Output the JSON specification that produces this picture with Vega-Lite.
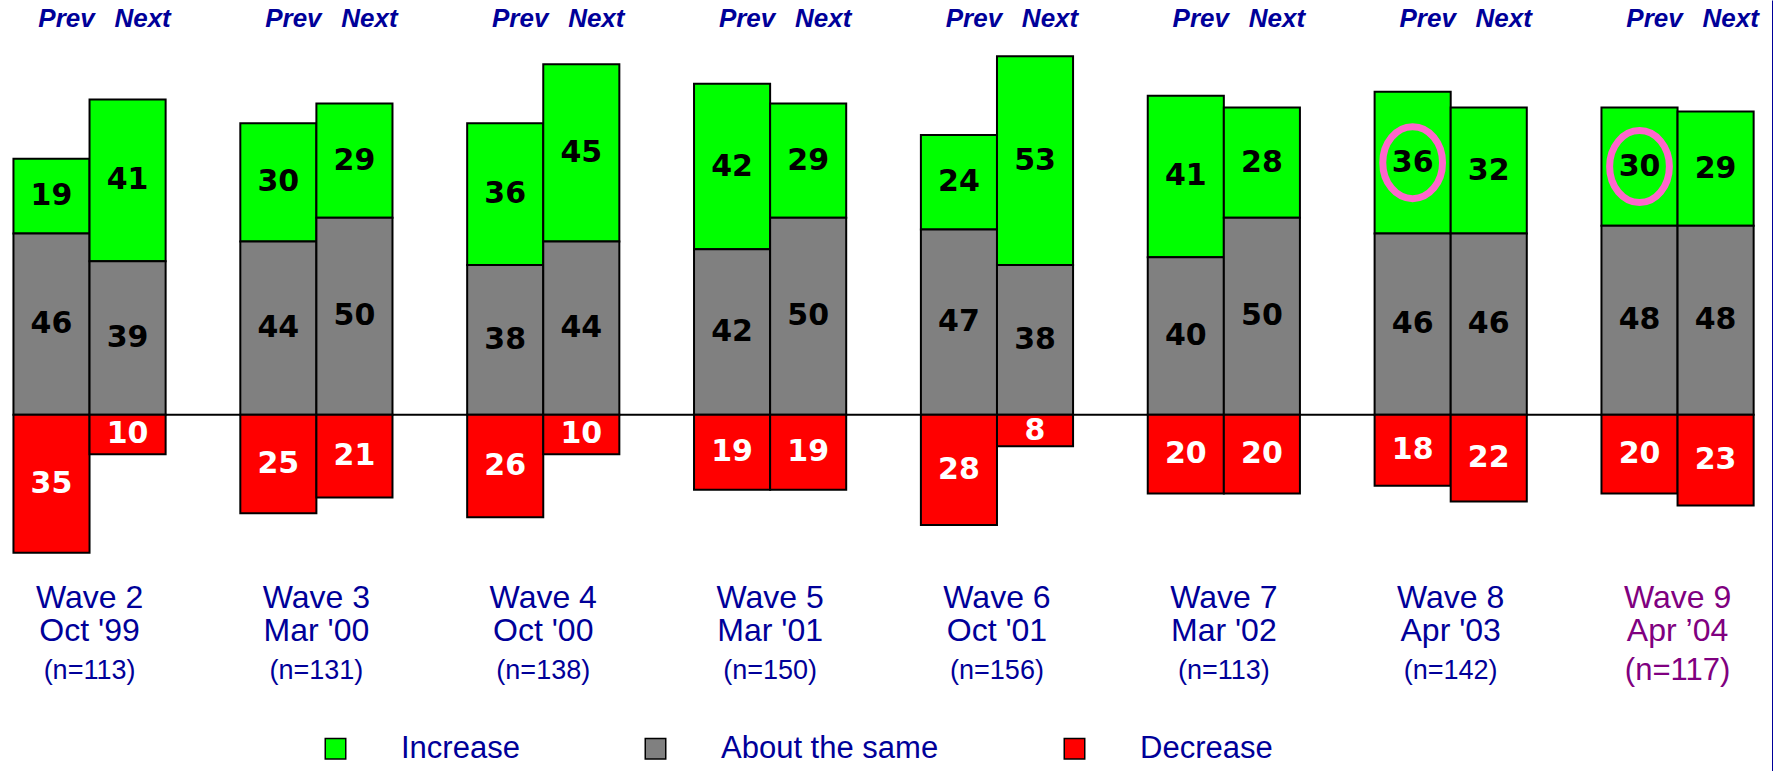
{
  "$schema": "https://vega.github.io/schema/vega-lite/v6.json",
  "width": 1773,
  "height": 771,
  "autosize": {"type": "none"},
  "padding": 0,
  "background": "white",
  "config": {"view": {"stroke": null}, "font": "Liberation Sans"},
  "datasets": {
    "bars": [
      {"wave": "Wave 2", "period": "Prev", "cat": "Increase", "value": 19},
      {"wave": "Wave 2", "period": "Prev", "cat": "About the same", "value": 46},
      {"wave": "Wave 2", "period": "Prev", "cat": "Decrease", "value": 35},
      {"wave": "Wave 2", "period": "Next", "cat": "Increase", "value": 41},
      {"wave": "Wave 2", "period": "Next", "cat": "About the same", "value": 39},
      {"wave": "Wave 2", "period": "Next", "cat": "Decrease", "value": 10},
      {"wave": "Wave 3", "period": "Prev", "cat": "Increase", "value": 30},
      {"wave": "Wave 3", "period": "Prev", "cat": "About the same", "value": 44},
      {"wave": "Wave 3", "period": "Prev", "cat": "Decrease", "value": 25},
      {"wave": "Wave 3", "period": "Next", "cat": "Increase", "value": 29},
      {"wave": "Wave 3", "period": "Next", "cat": "About the same", "value": 50},
      {"wave": "Wave 3", "period": "Next", "cat": "Decrease", "value": 21},
      {"wave": "Wave 4", "period": "Prev", "cat": "Increase", "value": 36},
      {"wave": "Wave 4", "period": "Prev", "cat": "About the same", "value": 38},
      {"wave": "Wave 4", "period": "Prev", "cat": "Decrease", "value": 26},
      {"wave": "Wave 4", "period": "Next", "cat": "Increase", "value": 45},
      {"wave": "Wave 4", "period": "Next", "cat": "About the same", "value": 44},
      {"wave": "Wave 4", "period": "Next", "cat": "Decrease", "value": 10},
      {"wave": "Wave 5", "period": "Prev", "cat": "Increase", "value": 42},
      {"wave": "Wave 5", "period": "Prev", "cat": "About the same", "value": 42},
      {"wave": "Wave 5", "period": "Prev", "cat": "Decrease", "value": 19},
      {"wave": "Wave 5", "period": "Next", "cat": "Increase", "value": 29},
      {"wave": "Wave 5", "period": "Next", "cat": "About the same", "value": 50},
      {"wave": "Wave 5", "period": "Next", "cat": "Decrease", "value": 19},
      {"wave": "Wave 6", "period": "Prev", "cat": "Increase", "value": 24},
      {"wave": "Wave 6", "period": "Prev", "cat": "About the same", "value": 47},
      {"wave": "Wave 6", "period": "Prev", "cat": "Decrease", "value": 28},
      {"wave": "Wave 6", "period": "Next", "cat": "Increase", "value": 53},
      {"wave": "Wave 6", "period": "Next", "cat": "About the same", "value": 38},
      {"wave": "Wave 6", "period": "Next", "cat": "Decrease", "value": 8},
      {"wave": "Wave 7", "period": "Prev", "cat": "Increase", "value": 41},
      {"wave": "Wave 7", "period": "Prev", "cat": "About the same", "value": 40},
      {"wave": "Wave 7", "period": "Prev", "cat": "Decrease", "value": 20},
      {"wave": "Wave 7", "period": "Next", "cat": "Increase", "value": 28},
      {"wave": "Wave 7", "period": "Next", "cat": "About the same", "value": 50},
      {"wave": "Wave 7", "period": "Next", "cat": "Decrease", "value": 20},
      {"wave": "Wave 8", "period": "Prev", "cat": "Increase", "value": 36},
      {"wave": "Wave 8", "period": "Prev", "cat": "About the same", "value": 46},
      {"wave": "Wave 8", "period": "Prev", "cat": "Decrease", "value": 18},
      {"wave": "Wave 8", "period": "Next", "cat": "Increase", "value": 32},
      {"wave": "Wave 8", "period": "Next", "cat": "About the same", "value": 46},
      {"wave": "Wave 8", "period": "Next", "cat": "Decrease", "value": 22},
      {"wave": "Wave 9", "period": "Prev", "cat": "Increase", "value": 30},
      {"wave": "Wave 9", "period": "Prev", "cat": "About the same", "value": 48},
      {"wave": "Wave 9", "period": "Prev", "cat": "Decrease", "value": 20},
      {"wave": "Wave 9", "period": "Next", "cat": "Increase", "value": 29},
      {"wave": "Wave 9", "period": "Next", "cat": "About the same", "value": 48},
      {"wave": "Wave 9", "period": "Next", "cat": "Decrease", "value": 23}
    ],
    "waves": [
      {"wave": "Wave 2", "date": "Oct '99", "n": "(n=113)"},
      {"wave": "Wave 3", "date": "Mar '00", "n": "(n=131)"},
      {"wave": "Wave 4", "date": "Oct '00", "n": "(n=138)"},
      {"wave": "Wave 5", "date": "Mar '01", "n": "(n=150)"},
      {"wave": "Wave 6", "date": "Oct '01", "n": "(n=156)"},
      {"wave": "Wave 7", "date": "Mar '02", "n": "(n=113)"},
      {"wave": "Wave 8", "date": "Apr '03", "n": "(n=142)"},
      {"wave": "Wave 9", "date": "Apr ’04", "n": "(n=117)"}
    ]
  },
  "layer": [
    {
      "data": {"values": [{}]},
      "mark": {"type": "rule", "color": "black", "strokeWidth": 2},
      "encoding": {
        "x": {"datum": "Wave 2", "type": "nominal", "bandPosition": 0, "axis": null},
        "x2": {"datum": "Wave 9", "bandPosition": 1},
        "y": {"datum": 0, "type": "quantitative", "axis": {"orient": "right", "domainColor": "#000099", "domainWidth": 3, "labels": false, "ticks": false, "grid": false, "title": null}}
      }
    },
    {
      "data": {"name": "bars"},
      "transform": [
        {"calculate": "datum.cat === 'Decrease' ? -datum.value : datum.value", "as": "sv"},
        {"calculate": "indexof(['About the same','Increase','Decrease'], datum.cat)", "as": "ord"},
        {"stack": "sv", "groupby": ["wave", "period"], "sort": [{"field": "ord", "order": "ascending"}], "as": ["v0", "v1"]},
        {"calculate": "(datum.v0 + datum.v1) / 2", "as": "mid"}
      ],
      "layer": [
        {
          "mark": {"type": "bar", "stroke": "black", "strokeWidth": 2},
          "encoding": {
            "x": {"field": "wave", "type": "nominal", "axis": null,
              "scale": {"domain": ["Wave 2", "Wave 3", "Wave 4", "Wave 5", "Wave 6", "Wave 7", "Wave 8", "Wave 9"], "paddingInner": 0.3292, "paddingOuter": 0.0723, "align": 0.41}},
            "xOffset": {"field": "period", "type": "nominal", "scale": {"domain": ["Prev", "Next"], "paddingInner": 0, "paddingOuter": 0}},
            "y": {"field": "v0", "type": "quantitative", "title": null,
              "scale": {"domain": [-90.41, 105.28], "nice": false, "zero": false},
              "axis": {"orient": "right", "domainColor": "#000099", "domainWidth": 3, "labels": false, "ticks": false, "grid": false, "title": null}},
            "y2": {"field": "v1"},
            "color": {"field": "cat", "type": "nominal",
              "scale": {"domain": ["Increase", "About the same", "Decrease"], "range": ["#00ff00", "#808080", "#ff0000"]},
              "legend": {"orient": "none", "legendX": 320, "legendY": 733, "direction": "horizontal", "title": null,
                "symbolType": "square", "symbolSize": 420, "symbolStrokeColor": "black", "symbolStrokeWidth": 1.5, "symbolOpacity": 1,
                "labelFont": "Liberation Sans", "labelFontSize": 31, "labelColor": "#000099", "labelOffset": 50, "labelLimit": 400, "columnPadding": 120}}
          }
        },
        {
          "mark": {"type": "text", "font": "DejaVu Sans", "fontWeight": "bold", "fontSize": 30, "baseline": "middle", "align": "center"},
          "encoding": {
            "x": {"field": "wave", "type": "nominal", "axis": null},
            "xOffset": {"field": "period", "type": "nominal"},
            "y": {"field": "mid", "type": "quantitative", "title": null, "axis": {"orient": "right", "domainColor": "#000099", "domainWidth": 3, "labels": false, "ticks": false, "grid": false, "title": null}},
            "text": {"field": "value", "type": "quantitative"},
            "color": {"condition": {"test": "datum.cat === 'Decrease'", "value": "white"}, "value": "black"}
          }
        },
        {
          "transform": [{"filter": "datum.cat === 'Increase' && datum.period === 'Prev' && (datum.wave === 'Wave 8' || datum.wave === 'Wave 9')"}],
          "mark": {"type": "point", "shape": "M0,-1A0.83,1 0 1,1 0,1A0.83,1 0 1,1 0,-1Z", "size": 5184, "filled": false, "color": "#ff66cc", "strokeWidth": 7, "opacity": 1},
          "encoding": {
            "x": {"field": "wave", "type": "nominal", "axis": null},
            "xOffset": {"field": "period", "type": "nominal"},
            "y": {"field": "mid", "type": "quantitative", "title": null, "axis": {"orient": "right", "domainColor": "#000099", "domainWidth": 3, "labels": false, "ticks": false, "grid": false, "title": null}}
          }
        },
        {
          "transform": [{"filter": "datum.cat === 'Increase'"}],
          "mark": {"type": "text", "font": "Liberation Sans", "fontWeight": "bold", "fontStyle": "italic", "fontSize": 26, "color": "#000099", "baseline": "middle", "align": "center", "dx": 15},
          "encoding": {
            "x": {"field": "wave", "type": "nominal", "axis": null},
            "xOffset": {"field": "period", "type": "nominal"},
            "y": {"datum": 100.4, "type": "quantitative", "axis": {"orient": "right", "domainColor": "#000099", "domainWidth": 3, "labels": false, "ticks": false, "grid": false, "title": null}},
            "text": {"field": "period", "type": "nominal"}
          }
        }
      ]
    },
    {
      "data": {"name": "waves"},
      "layer": [
        {
          "mark": {"type": "text", "fontSize": 32, "baseline": "middle", "align": "center"},
          "encoding": {
            "x": {"field": "wave", "type": "nominal", "axis": null},
            "y": {"datum": -46.5, "type": "quantitative", "axis": {"orient": "right", "domainColor": "#000099", "domainWidth": 3, "labels": false, "ticks": false, "grid": false, "title": null}},
            "text": {"field": "wave", "type": "nominal"},
            "color": {"condition": {"test": "datum.wave === 'Wave 9'", "value": "#800080"}, "value": "#000099"}
          }
        },
        {
          "mark": {"type": "text", "fontSize": 32, "baseline": "middle", "align": "center"},
          "encoding": {
            "x": {"field": "wave", "type": "nominal", "axis": null},
            "y": {"datum": -54.9, "type": "quantitative", "axis": {"orient": "right", "domainColor": "#000099", "domainWidth": 3, "labels": false, "ticks": false, "grid": false, "title": null}},
            "text": {"field": "date", "type": "nominal"},
            "color": {"condition": {"test": "datum.wave === 'Wave 9'", "value": "#800080"}, "value": "#000099"}
          }
        },
        {
          "mark": {"type": "text", "baseline": "middle", "align": "center"},
          "encoding": {
            "x": {"field": "wave", "type": "nominal", "axis": null},
            "y": {"datum": -65, "type": "quantitative", "axis": {"orient": "right", "domainColor": "#000099", "domainWidth": 3, "labels": false, "ticks": false, "grid": false, "title": null}},
            "text": {"field": "n", "type": "nominal"},
            "size": {"condition": {"test": "datum.wave === 'Wave 9'", "value": 31}, "value": 27},
            "color": {"condition": {"test": "datum.wave === 'Wave 9'", "value": "#800080"}, "value": "#000099"}
          }
        }
      ]
    }
  ]
}
